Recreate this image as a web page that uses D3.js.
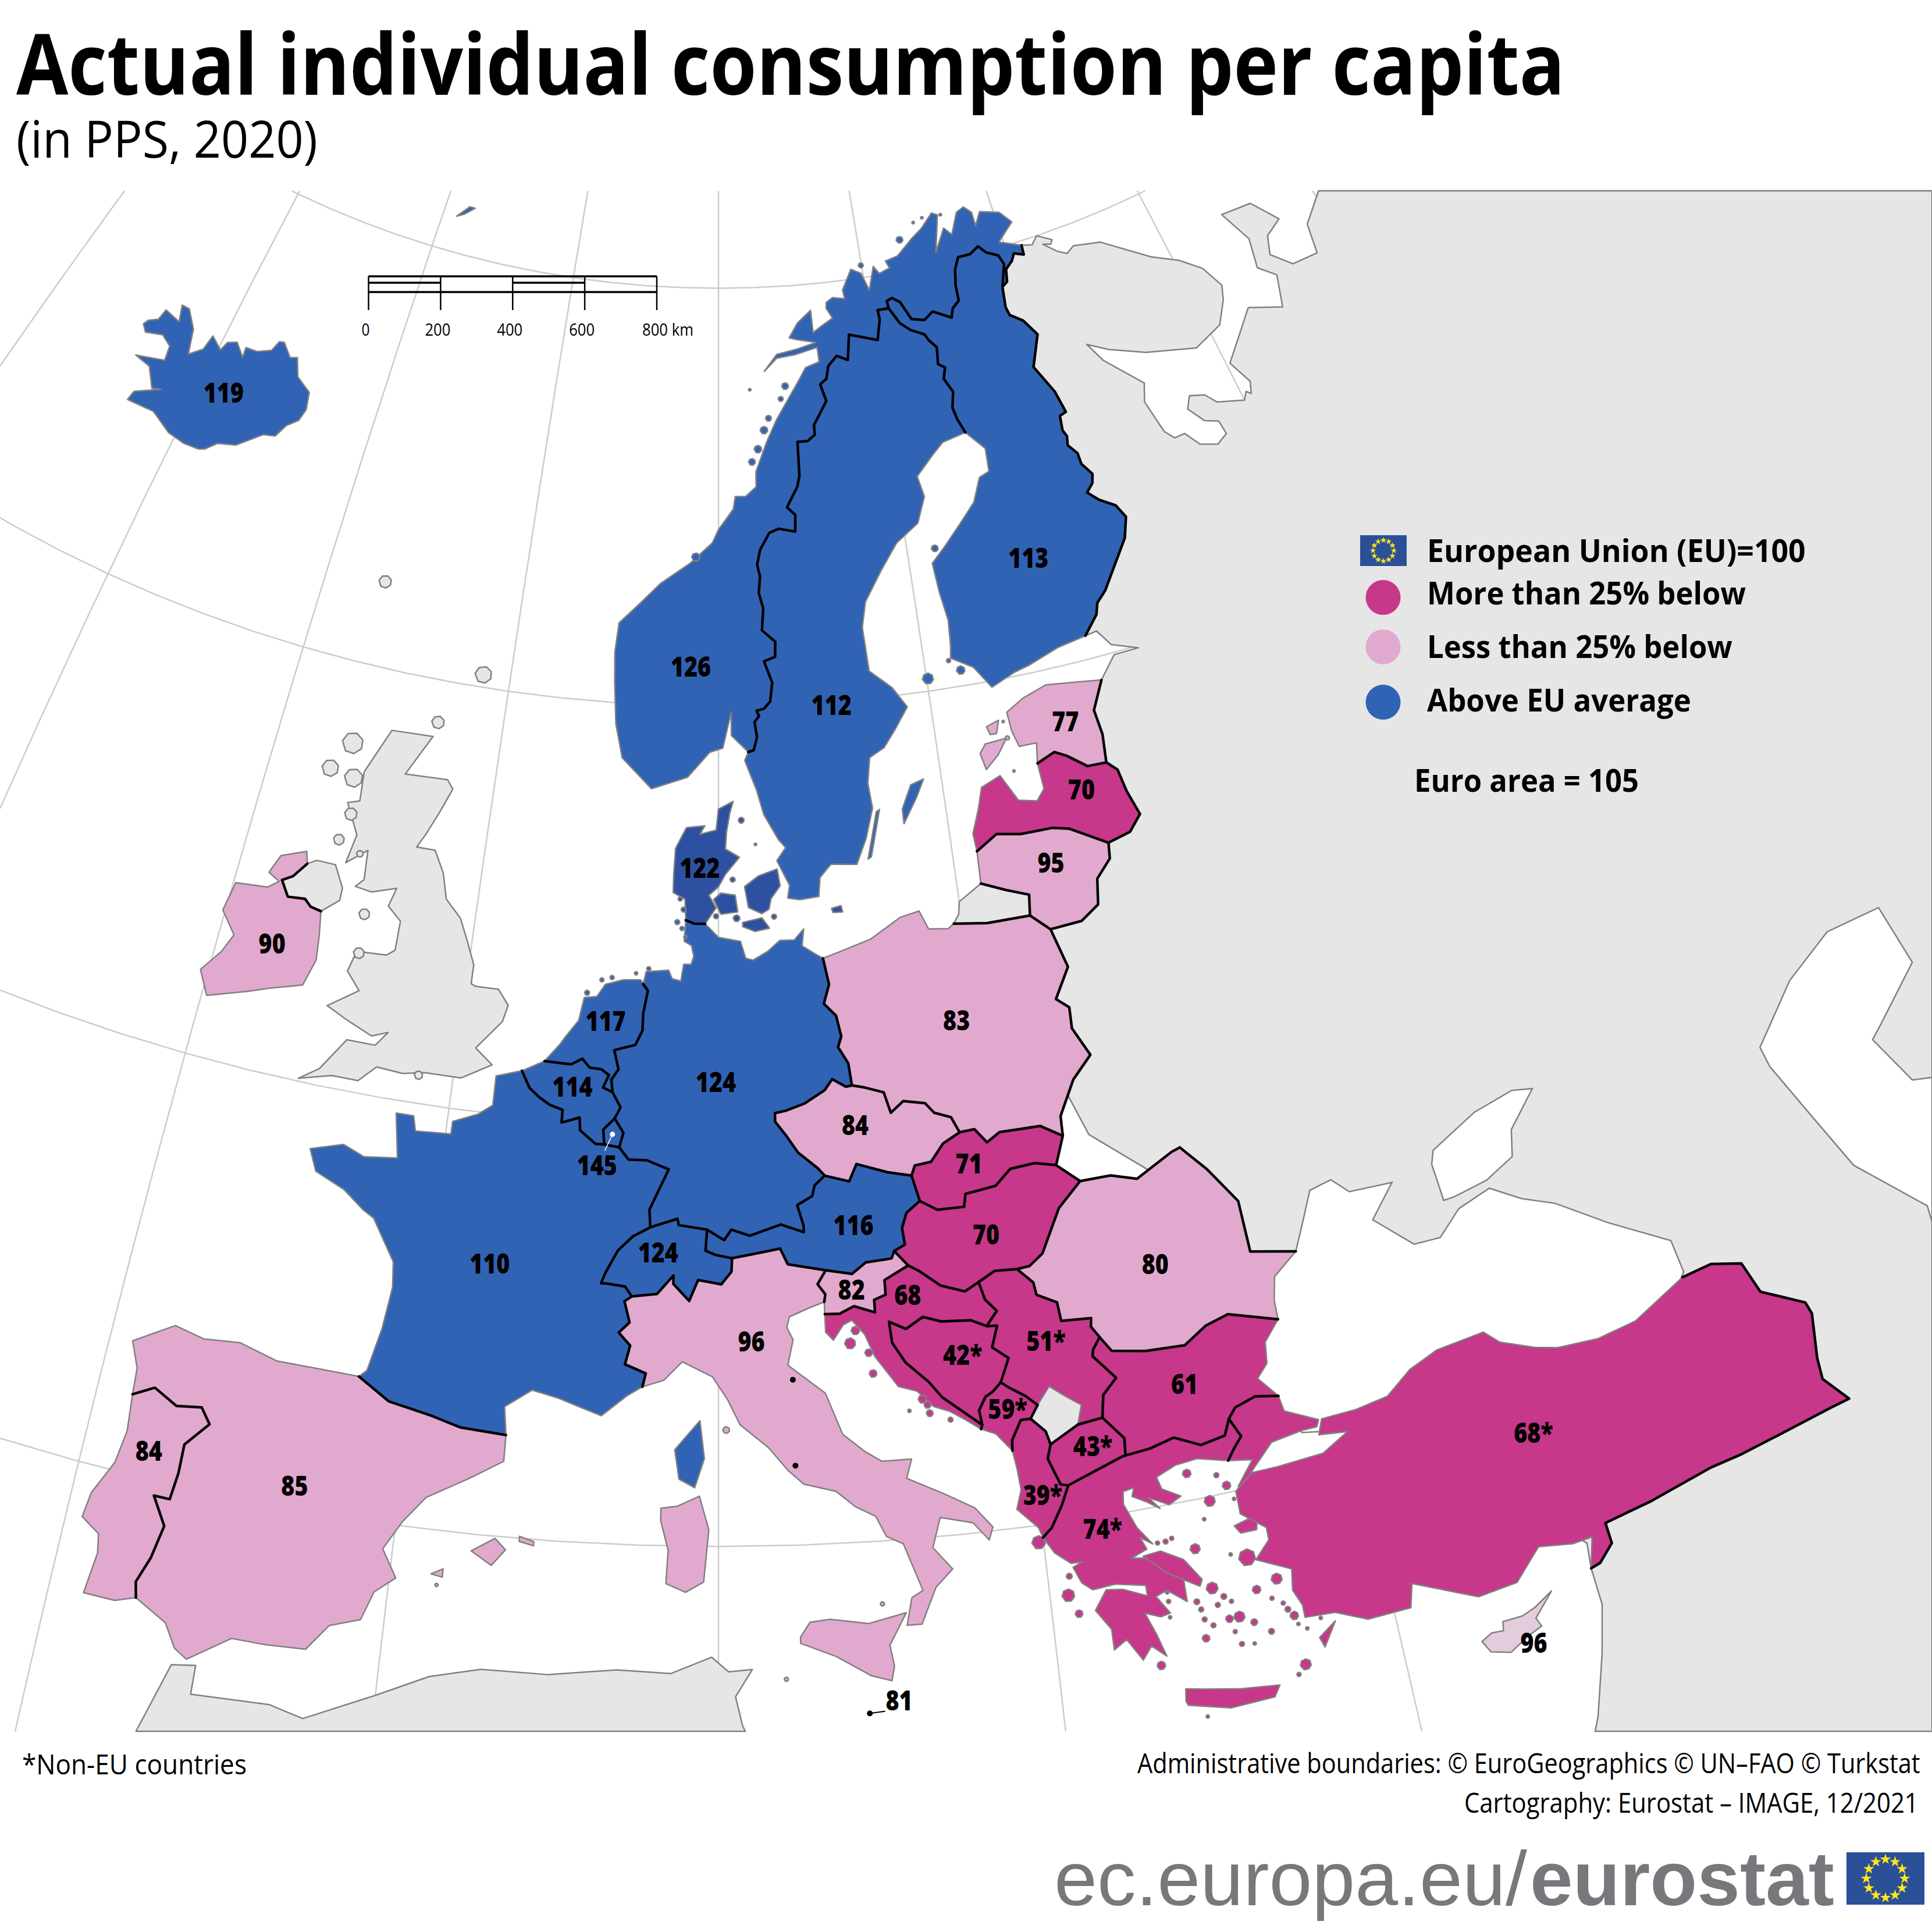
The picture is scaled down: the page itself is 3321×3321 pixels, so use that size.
<!DOCTYPE html>
<html>
<head>
<meta charset="utf-8">
<script src="https://cdn.jsdelivr.net/npm/d3@7"></script>
<style>
  html, body { margin: 0; padding: 0; background: #fff; }
  text { font-family: "Open Sans", sans-serif; }
</style>
</head>
<body>
<div id="chart"></div>
<script>
// values
const countryCodes = ['IS','NO','SE','FI','DK','EE','LV','LT','PL','DE','NL','BE','LU','FR','CH','AT','CZ','SK','HU','RO','SI','HR','BA','RS','ME','AL','MK','BG','EL','TR','IT','ES','PT','IE','CY','MT'];
const countryValues = [119,126,112,113,122,77,70,95,83,124,117,114,145,110,124,116,84,71,70,80,82,68,42,51,59,39,43,61,74,68,96,85,84,90,96,81];
const starred = ['BA','RS','ME','AL','MK','EL','TR'];
const labelLonLat = [[-18.6,65],[8.65,60.93],[15.35,59.93],[26.15,62.68],[9.2,56.15],[26,58.7],[26,57.05],[24.05,55.5],[19.25,52.16],[9.9,51.06],[5.6,52.43],[4.5,50.82],[5.6,48.99],[2.1,46.45],[7.9,46.98],[14.75,47.55],[15.05,49.93],[19.05,48.75],[19.35,47.03],[24.95,45.68],[14.55,46.03],[16.45,45.8],[18.1,44.25],[20.9,44.33],[19.37,42.85],[20.15,40.7],[21.92,41.68],[25.15,42.75],[21.85,39.7],[35.45,39.4],[11.1,44.88],[-3.27,40.56],[-7.95,40.66],[-7.85,53.03],[33.7,34.65],[15.27,36.16]];
const legendLabels = ['More than 25% below','Less than 25% below','Above EU average'];
const scaleTicks = [0,200,400,600,800];

// shared land borders, lon/lat
const NO_RU = [[31.1,69.9],[31.03,69.67],[30.42,69.77],[30.12,69.61],[29.57,69.46],[29.38,69.17],[28.98,69.08]];
const NO_FI = [[28.98,69.08],[29.55,69.59],[29.36,69.83],[28.62,69.98],[28.21,70.17],[27.53,70.04],[26.67,70.04],[26.25,69.77],[26,69.39],[25.95,69.03],[25.44,68.88],[25.22,68.67],[24.1,68.91],[23.47,68.75],[22.65,68.83],[22.13,69.28],[21.65,69.41],[21.28,69.36],[21.31,69.18]];
const NO_SE = [[21.31,69.18],[20.57,69.18],[20.6,68.95],[20.25,68.47],[18.47,68.69],[18.18,68.09],[17.51,68.22],[16.91,68],[16.71,67.7],[16.29,67.58],[16.56,67.17],[15.68,66.62],[15.68,66.39],[15.23,66.25],[14.63,66.25],[14.6,65.44],[14.44,65.18],[13.79,64.7],[14.22,64.51],[14.16,64.11],[13.27,64.2],[12.75,64.11],[12.22,63.71],[12.04,63.36],[12.17,63.08],[12.08,62.68],[12.28,62.32],[12.18,61.79],[12.82,61.51],[12.78,61.15],[12.23,61.05],[12.59,60.54],[12.46,60.09],[12.15,59.92],[11.8,59.88],[11.91,59.75],[11.69,59.61],[11.79,59.25],[11.62,58.94],[11.37,58.9]];
const FI_SE = [[24.4,65.92],[24.11,66.27],[23.98,66.56],[24.23,66.93],[23.85,67.28],[24.08,67.54],[23.7,67.65],[23.86,68.05],[23.45,68.26],[23.27,68.41],[22.44,68.58],[21.86,68.78],[21.31,69.18]];
const FI_RU = [[27.92,60.56],[28.72,60.98],[28.92,61.24],[29.47,61.47],[31.23,62.53],[31.64,63],[31.32,63.33],[30.58,63.57],[30.08,63.82],[30.51,64],[30.67,64.21],[30.26,64.51],[30.24,64.78],[29.85,65.03],[29.97,65.24],[29.83,65.4],[29.94,65.75],[30.34,65.8],[30.09,66.34],[29.33,67.04],[30.19,67.76],[29.6,68.17],[28.88,68.39],[28.78,68.59],[28.98,69.08]];
const DK_DE = [[9.45,54.82],[9,54.82],[8.65,54.9]];
const DE_NL = [[7,53.35],[7.2,53.2],[7.05,52.65],[7.05,52.25],[6.8,51.9],[6,51.75],[6.2,51.3],[5.95,51.05],[6.02,50.75]];
const DE_BE = [[6.02,50.75],[6.35,50.4],[6.15,50.13]];
const DE_LU = [[6.15,50.13],[6.5,49.8],[6.37,49.45]];
const DE_FR = [[6.37,49.45],[6.73,49.17],[7.4,49.17],[8.2,48.97],[7.55,48],[7.6,47.58]];
const DE_CH = [[7.6,47.58],[8.55,47.8],[8.6,47.65],[9.6,47.55]];
const DE_AT = [[9.6,47.55],[10.2,47.3],[10.45,47.55],[11.1,47.4],[12.2,47.65],[13,47.45],[13,47.6],[12.8,48.1],[13.35,48.3],[13.45,48.55],[13.83,48.77]];
const DE_CZ = [[13.83,48.77],[13.6,48.95],[12.9,49.35],[12.5,49.75],[12.1,50.1],[12.1,50.3],[12.5,50.35],[13.2,50.5],[14,50.8],[14.3,51.05],[14.8,50.85],[15.03,50.87]];
const DE_PL = [[15.03,50.87],[14.95,51.4],[14.6,51.8],[14.75,52.05],[14.6,52.55],[14.15,52.85],[14.4,53.3],[14.22,53.93]];
const NL_BE = [[3.37,51.37],[4.2,51.35],[4.4,51.35],[4.8,51.5],[5.1,51.3],[5.55,51.28],[5.85,51.15],[5.65,50.85],[6.02,50.75]];
const BE_FR = [[2.55,51.09],[2.9,50.7],[3.3,50.5],[3.7,50.35],[4.2,50.25],[4.2,49.95],[4.85,50.1],[4.9,49.8],[5.5,49.5],[5.82,49.5]];
const BE_LU = [[5.82,49.5],[5.75,49.85],[6.15,50.13]];
const LU_FR = [[5.82,49.5],[6.37,49.45]];
const FR_ES = [[-1.78,43.38],[-0.7,42.9],[0.7,42.7],[1.7,42.5],[3.17,42.43]];
const FR_IT = [[7.5,43.78],[7.6,44.1],[6.9,44.3],[7.05,44.75],[6.65,45.05],[7,45.3],[6.8,45.8],[7.04,45.92]];
const FR_CH = [[7.04,45.92],[6.8,46.15],[6.2,46.2],[5.97,46.2],[6.1,46.45],[6.5,47],[7,47.35],[7.6,47.58]];
const CH_IT = [[7.04,45.92],[7.9,46],[8.45,46.45],[8.45,46.25],[9,45.85],[9.3,46.35],[10.1,46.25],[10.45,46.55],[10.47,46.87]];
const CH_AT = [[10.47,46.87],[9.9,46.95],[9.55,47.05],[9.6,47.55]];
const AT_IT = [[10.47,46.87],[11.1,46.95],[12.15,47.08],[12.4,46.7],[13.7,46.52]];
const AT_SI = [[13.7,46.52],[14.6,46.4],[15.1,46.65],[16,46.7],[16.11,46.87]];
const AT_HU = [[16.11,46.87],[16.5,47],[16.45,47.4],[16.65,47.75],[17.16,48]];
const AT_SK = [[17.16,48],[16.95,48.62]];
const AT_CZ = [[16.95,48.62],[16.1,48.75],[15,49],[14.7,48.6],[13.83,48.77]];
const CZ_PL = [[15.03,50.87],[15.5,50.8],[16.2,50.65],[16.4,50.15],[16.9,50.4],[17.7,50.3],[18,50.05],[18.6,49.9],[18.85,49.52]];
const CZ_SK = [[18.85,49.52],[18.2,49.3],[17.7,48.9],[17.1,48.85],[16.95,48.62]];
const SK_PL = [[18.85,49.52],[19.4,49.55],[19.8,49.2],[20.3,49.4],[21.1,49.4],[21.8,49.4],[22.56,49.08]];
const SK_UA = [[22.56,49.08],[22.15,48.42]];
const SK_HU = [[22.15,48.42],[21.4,48.55],[20.5,48.5],[19.9,48.15],[18.8,48.05],[18.7,47.75],[17.75,47.75],[17.16,48]];
const HU_UA = [[22.15,48.42],[22.9,47.95]];
const HU_RO = [[22.9,47.95],[22,47.4],[21.2,46.4],[20.7,46.15],[20.26,46.12]];
const HU_RS = [[20.26,46.12],[19.5,46.15],[18.9,45.93]];
const HU_HR = [[18.9,45.93],[18.4,45.75],[17.6,45.95],[16.9,46.35],[16.55,46.5]];
const HU_SI = [[16.55,46.5],[16.11,46.87]];
const IT_SI = [[13.7,46.52],[13.4,46.2],[13.65,45.95],[13.6,45.77]];
const SI_HR = [[13.6,45.48],[14.1,45.47],[14.6,45.63],[15.3,45.45],[15.3,45.75],[15.7,45.85],[15.7,46.2],[16.55,46.5]];
const HR_ME = [[18.45,42.45],[18.5,42.55]];
const HR_BA = [[18.5,42.55],[17.7,43.05],[17.3,43.3],[16.9,43.7],[16.2,44.2],[15.8,44.7],[15.75,45.2],[16.3,45],[16.9,45.25],[17.5,45.1],[18.5,45.05],[19,44.87]];
const HR_RS = [[18.9,45.93],[19.05,45.5],[19.4,45.2],[19,44.87]];
const BA_RS = [[19,44.87],[19.35,44.85],[19.1,44.35],[19.6,44.05],[19.25,43.5]];
const BA_ME = [[18.5,42.55],[18.45,42.9],[18.7,43.2],[18.95,43.3],[19.25,43.5]];
const ME_AL = [[19.37,41.85],[19.4,42.1],[19.75,42.55],[20.07,42.55]];
const ME_XK = [[20.07,42.55],[20.35,42.85]];
const ME_RS = [[20.35,42.85],[20,43.1],[19.5,43.35],[19.25,43.5]];
const XK_AL = [[20.07,42.55],[20.5,42.2],[20.6,41.88]];
const XK_MK = [[20.6,41.88],[21.55,42.25]];
const RS_MK = [[21.55,42.25],[22.36,42.32]];
const RS_BG = [[22.36,42.32],[22.5,42.85],[23,43.2],[22.35,43.8],[22.4,43.95],[22.68,44.22]];
const RS_RO = [[22.68,44.22],[22.45,44.5],[22.5,44.7],[21.5,44.75],[21.45,45.2],[20.8,45.45],[20.75,45.75],[20.26,46.12]];
const AL_EL = [[20,39.7],[20.3,39.9],[20.7,40.4],[20.98,40.85]];
const AL_MK = [[20.98,40.85],[20.75,40.9],[20.45,41.55],[20.6,41.88]];
const MK_EL = [[20.98,40.85],[21.9,41.1],[22.8,41.33],[22.9,41.34]];
const MK_BG = [[22.9,41.34],[22.95,41.75],[22.36,42.32]];
const BG_EL = [[22.9,41.34],[23.7,41.4],[24.5,41.55],[25.3,41.25],[26.1,41.35],[26.33,41.72]];
const BG_TR = [[26.33,41.72],[26.6,41.95],[27.3,42.1],[28.03,41.98]];
const BG_RO = [[22.68,44.22],[23,43.85],[24.1,43.7],[25.4,43.65],[26.2,44],[27,44.15],[28.58,43.75]];
const EL_TR = [[26.33,41.72],[26.6,41.25],[26.3,41],[26.05,40.75]];
const RO_UA_N = [[22.9,47.95],[24,47.95],[24.9,47.75],[26.3,48.2],[26.62,48.26]];
const RO_MD = [[26.62,48.26],[27.4,47.6],[28.2,46.7],[28.2,45.47]];
const RO_UA_S = [[28.2,45.47],[29.7,45.2]];
const PL_UA = [[23.6,51.55],[24.1,50.85],[23.3,50.35],[22.6,49.55],[22.56,49.08]];
const PL_BY = [[23.5,53.95],[23.9,53],[23.2,52.3],[23.65,52.05],[23.6,51.55]];
const PL_LT = [[22.78,54.36],[23.5,53.95]];
const PL_RU = [[19.65,54.45],[21,54.35],[22.78,54.36]];
const LT_RU = [[21,55.3],[22,55.05],[22.9,54.85],[22.78,54.36]];
const LT_LV = [[21.05,56.07],[22,56.4],[23,56.3],[24.4,56.3],[25.1,56.2],[26.6,55.67]];
const LT_BY = [[26.6,55.67],[26.5,55.3],[25.8,54.9],[25.6,54.3],[24.8,54],[23.5,53.95]];
const LV_EE = [[24.35,57.87],[25.2,58.05],[25.7,57.9],[26.5,57.55],[27.35,57.53]];
const LV_EAST = [[27.35,57.53],[27.75,57.3],[27.9,56.75],[28.2,56.15],[27.6,55.8],[26.6,55.67]];
const EE_RU = [[28.1,59.45],[27.4,58.8],[27.5,58.2],[27.35,57.53]];
const PT_ES = [[-8.85,41.87],[-8.2,42.15],[-7.4,41.85],[-6.6,41.95],[-6.25,41.6],[-6.9,41],[-6.9,40.3],[-7,39.65],[-7.5,39.65],[-7,39],[-7.2,38.2],[-7.5,37.55],[-7.4,37.18]];
const IE_UK = [[-7.25,55.07],[-7.7,54.7],[-8.1,54.55],[-7.7,54.2],[-7,54.25],[-6.7,54.1],[-6.25,54.05]];
const TR_E = [[41.5,41.5],[42.5,41.5],[43.4,41.2],[43.6,40.4],[44.75,39.7],[44.8,39.4],[44.4,38.4],[44.3,37.9],[44.8,37.2],[44.2,37.2],[42.4,37.15],[41.2,37.1],[40.2,37.1],[38.2,36.9],[36.7,36.8],[36.7,36.3],[36.2,35.95],[35.9,35.9]];

// coastlines, lon/lat
const coastNO = [[11.37,58.9],[10.6,59.3],[10.6,59.85],[10.2,59],[9.6,58.9],[8.6,58.3],[7,58],[5.6,58.7],[5.2,59.5],[5,60.5],[4.9,61.2],[5,61.9],[6,62.4],[7,62.9],[8.5,63.4],[9.68,63.9],[10,64.21],[10.82,64.7],[10.94,65],[11.52,65],[12.12,65.22],[12.14,65.58],[12.82,66.28],[13.48,66.81],[13.9,67.07],[15.05,67.75],[15.48,68.01],[16.37,68.12],[16.33,68.47],[14.9,68.34],[13.7,68.28],[12.88,67.98],[13.72,68.37],[15.06,68.47],[16.29,68.59],[15.11,68.69],[14.59,68.75],[15.2,69.09],[16.15,69.37],[16.17,68.83],[16.81,68.98],[17.54,69.13],[17.2,69.38],[17.25,69.52],[17.7,69.62],[18.52,69.56],[18.45,69.77],[19.22,70.24],[19.87,70.11],[20.25,69.68],[20.79,70.23],[21.12,70.04],[21.88,70.13],[21.69,70.31],[22.6,70.38],[23.82,70.72],[24.7,70.92],[25.67,71.22],[26.05,71.14],[25.26,70.27],[26.23,70.8],[26.68,70.6],[27.43,71.09],[28.03,71.17],[28.48,71],[28.48,70.66],[29.05,70.96],[30.38,70.81],[31.01,70.5],[29.69,70.13],[31.1,69.9]];
const coastSE = [[11.37,58.9],[11.2,58.7],[11.7,58],[12,57.4],[12.6,56.8],[12.9,56.6],[12.5,56.3],[13,55.7],[12.9,55.4],[13.4,55.35],[14.2,55.4],[14.3,55.85],[14.8,56.15],[15.9,56.1],[16.4,56.7],[16.8,57.4],[16.7,58],[16.9,58.6],[17.6,58.8],[18.2,59.2],[18.9,59.7],[18.3,60.2],[17.3,60.65],[17.2,61.7],[17.5,62.3],[18.5,63],[19.5,63.6],[20.8,64],[21.4,64.6],[21.2,65.1],[22.3,65.55],[23,65.8],[24.4,65.92]];
const coastFI = [[24.4,65.92],[25.3,65.45],[25.2,64.9],[24.6,64.8],[24,64.25],[23,63.8],[21.9,63.3],[21.2,63],[21.3,62.3],[21.5,61.6],[21.4,61],[21.3,60.7],[22.3,60.4],[23,59.85],[24.2,60.1],[25,60.2],[26.5,60.45],[27.92,60.56]];
const coastKola = [[31.8,69.83],[32.3,70],[33.2,69.79],[33,69.7],[32.5,69.76],[33.24,69.49],[33.8,69.36],[34.4,69.48],[36.15,69.33],[38.8,68.53],[40.3,68.18],[41.4,67.76],[41.95,67.2],[41.6,66.88],[40.7,66.39],[38.85,66.13],[36,66.5],[34,66.88],[32.85,67.17],[33.45,66.68],[35.2,65.84],[34.8,65.42],[35.2,64.6],[35.6,64.37],[36.2,64.38],[36.75,64.01],[37.65,63.85],[38.3,64],[38.2,64.34],[37.5,64.48],[36.9,64.89],[37.3,65.16],[38.1,65.04],[38.56,64.77],[40,64.54],[40.3,64.71],[40.5,64.61],[40.76,64.88],[40.2,65.47],[42.7,66.45],[44.5,66.08],[45.2,66.8],[44.4,67.17],[44.9,67.86],[44.2,68.67],[46.2,68.56],[47.2,67.9],[46,67.7],[45.5,67.29],[46.4,66.83],[48,66.75],[48.5,67.44],[50.4,67.96]];
const coastDK = [[9.45,54.82],[9.9,55.2],[9.6,55.5],[10,55.7],[10.3,56],[10.9,56.4],[10.3,56.6],[10.35,57],[10.5,57.45],[10.65,57.73],[10,57.55],[9.9,57.05],[9.2,56.95],[9.4,57.15],[8.6,57.1],[8.15,56.6],[8.1,56],[8.1,55.55],[8.6,55.4],[8.65,54.9]];
const coastDE_N = [[8.65,54.9],[8.6,54.4],[8.9,54.3],[9,54.05],[8.9,53.85],[8.6,53.85],[8.5,53.45],[8.15,53.5],[8,53.7],[7.1,53.65],[7,53.35]];
const coastDE_B = [[14.22,53.93],[13.9,54.05],[13.4,54.25],[13.5,54.65],[13.1,54.4],[12.5,54.4],[12,54.15],[11.4,53.95],[11.1,54],[10.9,54.4],[10,54.5],[9.45,54.82]];
const coastNL = [[7,53.35],[6.9,53.45],[6.2,53.43],[5.5,53.3],[5.2,53],[4.7,52.95],[4.55,52.4],[4.1,52],[3.9,51.8],[3.37,51.37]];
const coastBE = [[3.37,51.37],[2.55,51.09]];
const coastFR_A = [[2.55,51.09],[1.6,50.9],[1.6,50.2],[1.1,49.95],[0.2,49.7],[0.2,49.4],[-1.1,49.35],[-1.25,49.7],[-1.9,49.7],[-1.6,48.65],[-2.8,48.55],[-3.6,48.75],[-4.75,48.5],[-4.4,48],[-3.3,47.7],[-2.5,47.3],[-2.1,47.15],[-1.2,46.2],[-1.1,45.6],[-1.25,44.6],[-1.55,43.55],[-1.78,43.38]];
const coastFR_M = [[3.17,42.43],[3.05,43.1],[3.9,43.55],[4.8,43.4],[5.4,43.25],[6.2,43.05],[7,43.55],[7.5,43.78]];
const coastIT = [[13.6,45.77],[13.1,45.65],[12.4,45.45],[12.3,45.2],[12.5,44.9],[12.3,44.3],[13.5,43.6],[14,42.6],[14.7,42.15],[15.2,41.9],[16.15,41.9],[15.95,41.45],[17.1,41],[18,40.6],[18.5,40.1],[18.35,39.8],[17.9,40.25],[16.9,40.45],[16.6,39.75],[17.15,39.2],[16.6,38.8],[16.1,37.95],[15.65,37.95],[15.85,38.6],[16.2,38.75],[15.7,39.9],[15.2,40.1],[14.9,40.6],[14.3,40.85],[13.7,41.25],[12.7,41.45],[12.2,41.8],[11.6,42.35],[10.7,42.9],[10.3,43.5],[9.8,44.05],[8.8,44.4],[8.2,43.95],[7.5,43.78]];
const coastSI = [[13.6,45.77],[13.6,45.48]];
const coastHR = [[13.6,45.48],[13.6,45.05],[13.85,44.85],[14.2,45.2],[14.5,45.3],[14.9,44.95],[15.2,44.4],[15.9,43.65],[16.5,43.5],[17,43.1],[17.5,42.95],[18,42.7],[18.45,42.45]];
const coastME = [[18.45,42.45],[18.9,42.3],[19.37,41.85]];
const coastAL = [[19.37,41.85],[19.45,41.4],[19.5,40.9],[19.3,40.45],[19.9,39.95],[20,39.7]];
const coastEL = [[20,39.7],[20.3,39.3],[20.75,39],[21.1,39],[20.8,38.9],[21,38.5],[21.3,38.3],[22,38.35],[22.9,38.2],[22.9,37.95],[22.2,38.2],[21.7,38.25],[21.3,37.8],[21.7,37.3],[21.7,36.8],[22.1,37],[22.5,36.45],[22.8,36.75],[23.2,36.45],[23,37],[22.75,37.55],[23.2,37.4],[23.5,37.45],[23.15,37.9],[23.5,38],[24.05,37.65],[24.05,38.2],[23.6,38.5],[23,38.85],[22.6,38.9],[23.1,39.05],[22.95,39.35],[23.3,39.15],[22.9,39.6],[22.6,40.2],[22.65,40.5],[23,40.55],[22.9,40.35],[23.35,40.15],[23.7,39.95],[23.4,40.25],[24,40],[24.4,40.15],[23.85,40.4],[23.75,40.7],[24.4,40.9],[25.1,40.95],[26.05,40.75]];
const coastBG = [[28.58,43.75],[28,43.3],[27.9,42.8],[27.5,42.5],[28.03,41.98]];
const coastRO = [[29.7,45.2],[28.8,44.75],[28.6,44.2],[28.58,43.75]];
const coastThrace = [[26.05,40.75],[26.8,40.65],[26.2,40.1],[26.3,40.05],[26.8,40.45],[27.5,40.95],[28.5,41.05],[29,41.05],[29.1,41.2],[28.1,41.6],[28.03,41.98]];
const coastTR_N = [[29.2,41.2],[30.3,41.2],[31.4,41.3],[32.3,41.75],[33.3,42],[34.9,42.05],[35.3,41.7],[36.3,41.3],[37,41.1],[38.3,40.95],[39.6,41],[41.5,41.5]];
const coastTR_S = [[35.9,35.9],[36.2,36.6],[35.6,36.6],[34.6,36.8],[33.7,36.15],[32.5,36.1],[30.7,36.85],[30.5,36.3],[29.2,36.3],[28.3,36.65],[27.4,36.7],[27.4,37],[27.2,37.4],[27.3,37.9],[26.3,38.3],[26.8,38.7],[26.8,39],[26.1,39.45],[26.1,40],[26.7,40.35],[27.5,40.35],[29,40.4],[29.9,40.75],[29,40.85],[29.2,41.2]];
const coastES_N = [[-1.78,43.38],[-3,43.4],[-4.5,43.4],[-5.8,43.65],[-7,43.55],[-8,43.7],[-9.25,43.1],[-8.9,42.5],[-8.85,41.87]];
const coastES_S = [[-7.4,37.18],[-6.4,36.75],[-6,36.2],[-5.6,36],[-5.35,36.15],[-4.4,36.7],[-3.4,36.7],[-2.2,36.75],[-1.6,37.4],[-0.7,37.65],[-0.4,38.35],[0.2,38.75],[-0.3,39.4],[0.2,40.1],[0.85,40.75],[2.1,41.3],[3.17,41.8],[3.17,42.43]];
const coastPT = [[-8.85,41.87],[-8.75,41],[-8.9,40.2],[-9.4,39.35],[-9.5,38.75],[-8.9,38.45],[-8.8,38],[-8.95,37],[-8,37],[-7.4,37.18]];
const coastIE = [[-6.25,54.05],[-6.1,53.5],[-6,52.9],[-6.3,52.25],[-7.5,52],[-8.3,51.8],[-9.8,51.45],[-10.3,52],[-9.7,52.55],[-9.4,53],[-10.1,53.5],[-9.9,54.2],[-8.6,54.3],[-8.2,54.5],[-8.7,54.65],[-8.4,55.1],[-7.4,55.35],[-7.25,55.07]];
const coastNI = [[-6.25,54.05],[-5.6,54.4],[-5.6,54.7],[-6.1,55.2],[-6.9,55.2],[-7.25,55.07]];
const coastEE = [[24.35,57.87],[24.5,58.35],[23.7,58.35],[23.5,58.75],[23.45,59.2],[24.3,59.45],[25.5,59.65],[26.9,59.55],[28.1,59.45]];
const coastLV = [[21.05,56.07],[21,56.5],[21.4,57.05],[21.7,57.55],[22.6,57.75],[23.2,57.1],[24,57],[24.4,57.25],[24.35,57.87]];
const coastLT = [[21.05,56.07],[21,55.3]];
const coastPL = [[19.65,54.45],[19.4,54.35],[18.6,54.4],[18.3,54.85],[17.5,54.75],[16.2,54.3],[14.6,54],[14.22,53.93]];
const coastKal = [[19.65,54.45],[19.9,54.65],[20,54.95],[21,55.3]];

// islands and outer land, drawn as their own rings
const ringIS = [[-23.19,63.87],[-23.1,64.11],[-21.84,64.44],[-22.31,64.37],[-23.03,64.8],[-24.01,64.88],[-22.43,65.09],[-22.57,65.44],[-23.24,65.6],[-24.19,65.46],[-24.54,65.61],[-24.39,65.74],[-23.92,65.87],[-23.8,66.15],[-22.78,66.05],[-23.11,66.43],[-22.63,66.43],[-21.83,66.05],[-21.4,65.47],[-20.77,65.73],[-20.62,66.11],[-19.85,65.89],[-19.67,66.12],[-19.17,66.22],[-18.49,65.95],[-18.56,66.19],[-17.86,66.21],[-17.11,66.37],[-16.89,66.63],[-16.61,66.66],[-15.93,66.38],[-15.52,66.44],[-15.06,66.02],[-14.1,65.77],[-13.9,65.36],[-14.08,65.06],[-14.61,64.85],[-14.98,64.52],[-15.62,64.45],[-16.78,63.98],[-17.73,63.85],[-18.23,63.61],[-18.54,63.55],[-19.4,63.53],[-20.38,63.61],[-21.63,63.9]];
const ringJanMayen = [[-9,70.85],[-8.3,71.15],[-7.9,71.15],[-8.5,70.95]];
const ringGotland = [[18.1,56.95],[18.8,57.55],[19.2,57.95],[18.6,57.85],[18.1,57.3]];
const ringOland = [[16.4,56.2],[16.95,57.3],[17.1,57.35],[16.55,56.25]];
const ringFyn = [[9.8,55.4],[10.1,55.55],[10.7,55.5],[10.8,55.1],[10.1,55.05]];
const ringSjaelland = [[11.1,55.7],[11.7,55.95],[12.5,56.1],[12.6,55.7],[12.2,55.4],[12.1,55.15],[11.8,55.05],[11.25,55.2]];
const ringLolland = [[11,54.85],[11.8,54.95],[12.1,54.7],[11.5,54.63],[11,54.75]];
const ringBornholm = [[14.7,55.1],[15.1,55.15],[15.15,55],[14.75,55]];
const ringSicily = [[12.45,37.8],[12.75,38.15],[13.35,38.2],[14.5,38.05],[15.65,38.25],[15.1,37.5],[15.2,37],[15.1,36.65],[14.5,36.8],[13.5,37.3],[12.45,37.65]];
const ringSardinia = [[8.2,40.9],[8.2,40.6],[8.45,39.9],[8.4,39.1],[9,38.9],[9.55,39.15],[9.7,40.4],[9.4,41.2],[8.7,40.95]];
const ringCorsica = [[8.6,42.3],[9.4,43],[9.55,42.1],[9.25,41.4],[8.75,41.6]];
const ringMallorca = [[2.4,39.6],[3.1,39.95],[3.45,39.7],[3.05,39.3]];
const ringMenorca = [[3.85,40.05],[4.3,39.95],[4.3,39.85],[3.85,39.93]];
const ringIbiza = [[1.25,38.95],[1.6,39.1],[1.6,38.9]];
const ringCrete = [[23.55,35.3],[23.6,35.6],[24.2,35.5],[25.2,35.35],[25.8,35.3],[26.3,35.25],[26.1,35],[24.8,34.95],[23.6,35.2]];
const ringEuboea = [[22.95,38.9],[23.5,38.95],[24.15,38.65],[24.6,38.1],[24.5,37.95],[23.6,38.4]];
const ringLesvos = [[25.85,39.2],[26.6,39.35],[26.5,39],[26,39]];
const ringRhodes = [[27.7,36.15],[28.25,36.45],[27.8,35.9]];
const ringCyprus = [[32.27,35.05],[32.45,34.75],[33,34.6],[33.6,34.85],[34.05,34.98],[33.95,35.2],[34.6,35.7],[34,35.45],[33.6,35.35],[33,35.36],[32.95,35.15],[32.6,35.18]];
const ringSaaremaa = [[21.9,58.35],[22.2,58.55],[23.2,58.6],[22.7,58.25],[22.05,57.95]];
const ringHiiumaa = [[22.4,58.95],[23,59.05],[22.8,58.75],[22.5,58.75]];
const ringGB = [[-5.7,50.07],[-4.5,50.3],[-3.5,50.3],[-2.9,50.7],[-1.9,50.65],[-1.1,50.75],[0.3,50.75],[1.4,51.15],[0.7,51.5],[1.6,52.2],[1.75,52.6],[1.3,52.95],[0.4,52.95],[0.2,53],[0.2,53.45],[-0.2,54],[-0.6,54.5],[-1.3,54.9],[-1.6,55.5],[-2.1,56],[-2.9,56],[-2.6,56.35],[-2.2,56.9],[-1.8,57.5],[-2.1,57.7],[-4,57.65],[-3.1,58.65],[-5,58.6],[-5.8,57.5],[-5.7,56.8],[-6.2,56.7],[-5.5,56],[-5.7,55.3],[-4.9,55.7],[-4.8,55],[-5.1,54.8],[-4.4,54.75],[-3.4,54.95],[-3.6,54.5],[-3,54.2],[-3,53.5],[-3.3,53.35],[-4.5,53.3],[-4.7,52.8],[-4.1,52.4],[-5.2,51.9],[-4.3,51.65],[-3.3,51.4],[-2.7,51.55],[-3.1,51.2],[-4.2,51.2],[-5,50.4]];
const ringGreenland = [[-45,64],[-40,65],[-38,65.6],[-37.3,66],[-34.5,67.5],[-40,70]];
const ringAfrica = [[-6,35.8],[-5.3,35.9],[-5.3,35.2],[-3,35.3],[-2,35.1],[0,35.9],[1.5,36.5],[3,36.8],[5,36.8],[7,37],[8.6,36.95],[9.8,37.35],[10.3,37],[11,37.05],[10.5,36.4],[10.7,35.7],[11,35.2],[10.1,34.3],[11,33.2],[12.5,32.9],[15,32.3],[16,31.3],[20,31],[20,33],[22,32.9],[25,31.7],[29,31],[31,31.5],[32.5,31.1],[34.2,31.3],[35,25],[35,20],[-7,20],[-6.67,34]];
const ringEastHead = [[28.1,59.45],[29,59.95],[30.2,59.95],[29,60.2],[28.5,60.6]];
const ringEastTail = [[54,69],[60,70],[68,70],[80,72],[90,70],[90,30],[60,22],[36,22],[34.2,31.3],[34.9,32.5],[35.5,33.9],[35.9,35],[35.9,35.9],[36,36.5],[32,40],[31.5,41],[30,42],[28.7,43.5],[28.3,45],[26,47.5],[23.5,49],[23,50],[23,54],[24.5,55.5],[26,57],[27,58.5]];
const ringBlackSea = [[29.7,45.2],[30.2,45.85],[30.7,46.5],[31.5,46.6],[32,46.2],[33.5,46.1],[32.5,45.4],[33.6,44.55],[34.5,44.5],[35.4,45],[36.6,45.2],[37.5,44.7],[38.5,44.3],[39.9,43.4],[41.6,42.4],[41.6,41.6],[40,40.5],[36,40.5],[31,40.6],[28.5,41],[27.5,42.5],[28,44],[29,45]];
const ringAzov = [[35,45.3],[35,46.2],[35.2,46.5],[37,47],[38.5,47.15],[39.2,47],[38,46.3],[37.7,45.7],[36.6,45.4],[35.4,45.3]];
const ringCaspian = [[47,45.5],[49,46.5],[51,47],[53,46.8],[53,45.3],[51,44.5],[50.5,44.3],[51,43],[52.5,42.5],[53,41],[53,39],[54,37],[52,36.7],[50,37.4],[49,38.3],[49.5,40.3],[48,42],[47.5,43.5],[47,45]];
const ringKosovo = [[20.35,42.85],[20.8,43.25],[21.3,42.95],[21.75,42.7],[21.55,42.25],[20.6,41.88],[20.5,42.2],[20.07,42.55]];

// small islands: lon, lat, radius in degrees
const isletsEL = [[24.85,37.85,.14],[25.15,37.6,.07],[25.35,37.45,.05],[24.93,37.43,.06],[24.33,37.6,.07],[24.42,37.4,.06],[24.47,37.15,.06],[24.7,36.97,.06],[24.42,36.7,.09],[25.2,37.05,.09],[25.5,37.05,.13],[25.3,36.72,.05],[25.9,36.85,.08],[25.43,36.4,.06],[25.8,36.35,.04],[26.15,37.6,.1],[26.8,37.75,.13],[26.05,38.4,.2],[25.58,38.55,.04],[24.55,38.85,.12],[23.45,39.15,.05],[23.7,39.15,.06],[23.9,39.2,.05],[26.55,37.32,.05],[26.85,37.15,.05],[26.95,36.98,.07],[27.1,36.8,.1],[26.35,36.55,.07],[27.17,36.58,.04],[27.4,36.43,.04],[27.85,36.6,.04],[27.15,35.6,.13],[26.9,35.4,.05],[23,36.25,.1],[23.5,37.73,.05],[23.5,37.95,.04],[23.47,37.35,.04],[24.98,39.5,.04],[24.1,34.85,.04],[19.85,39.6,.16],[20.55,38.25,.15],[20.8,37.78,.09],[20.65,38.7,.07],[24.7,40.65,.1],[25.6,40.47,.06],[25.25,39.9,.13]];
const isletsTR = [[25.85,40.18,.1],[26,39.83,.04]];
const isletsHR = [[14.6,45.05,.1],[14.4,44.75,.13],[15,44.5,.09],[15.1,44,.09],[16.65,43.3,.1],[16.8,43.15,.08],[16.85,42.95,.08],[16.2,43.05,.04],[17.5,42.75,.06]];
const isletsDK = [[11,57.28,.07],[11.6,56.7,.03],[10.6,55.87,.06],[9.9,55,.06],[8.55,55.15,.06],[8.4,55.4,.05],[10.75,54.95,.08],[12.3,54.97,.06]];
const isletsDE = [[8.3,54.85,.06],[8.5,54.7,.05],[8.65,54.5,.04],[7.2,53.72,.05],[6.7,53.6,.04]];
const isletsNL = [[5.75,53.47,.05],[5.35,53.4,.05],[4.8,53.07,.06]];
const isletsNO = [[11.93,65.82,.08],[12.3,66.12,.09],[12.7,66.57,.09],[13,66.85,.07],[13.8,67.3,.06],[14.12,67.6,.08],[19.95,70.3,.06],[22.97,70.75,.08],[24.2,71.09,.03],[24.9,71.16,.03],[26.26,71.13,.03],[11.93,67.55,.03],[8.8,63.55,.1]];
const isletsUK = [[-6.6,58.1,.25],[-7.3,57.4,.2],[-6.2,57.3,.22],[-5.95,56.45,.15],[-6.2,55.8,.13],[-5.2,55.58,.08],[-3,59,.15],[-1.3,60.3,.2],[-4.5,54.2,.13],[-4.4,53.27,.13],[-1.3,50.67,.1],[-7,62,.15]];
const isletsIT = [[14.95,38.5,.05],[10.25,42.78,.08],[12,36.8,.05],[12.6,35.5,.03]];
const isletsES = [[1.45,38.7,.04]];
const isletsFI = [[20.06,60.3,.13],[21.68,60.38,.1],[21.18,60.65,.05],[21.46,63.34,.08]];
const isletsEE = [[23.2,59,.03],[23.25,58.6,.05],[23.25,57.8,.03]];

const rev = a => a.slice().reverse();
const ring = (...parts) => parts.flat();
const ringEast = ring(ringEastHead, FI_RU, rev(NO_RU), coastKola, ringEastTail);

const ringsByCountry = {
  IS: [ringIS, ringJanMayen],
  NO: [ring(coastNO, NO_RU, NO_FI, NO_SE)],
  SE: [ring(coastSE, FI_SE, NO_SE), ringGotland, ringOland],
  FI: [ring(coastFI, FI_RU, NO_FI, rev(FI_SE))],
  DK: [ring(coastDK, rev(DK_DE)), ringFyn, ringSjaelland, ringLolland, ringBornholm],
  DE: [ring(coastDE_N, DE_NL, DE_BE, DE_LU, DE_FR, DE_CH, DE_AT, DE_CZ, DE_PL, coastDE_B, DK_DE)],
  NL: [ring(coastNL, NL_BE, rev(DE_NL))],
  BE: [ring(coastBE, BE_FR, BE_LU, rev(DE_BE), rev(NL_BE))],
  LU: [ring(LU_FR, rev(DE_LU), rev(BE_LU))],
  FR: [ring(coastFR_A, FR_ES, coastFR_M, FR_IT, FR_CH, rev(DE_FR), rev(LU_FR), rev(BE_FR)), ringCorsica],
  CH: [ring(rev(FR_CH), CH_IT, CH_AT, rev(DE_CH))],
  AT: [ring(DE_AT, rev(AT_CZ), rev(AT_SK), rev(AT_HU), rev(AT_SI), rev(AT_IT), CH_AT)],
  CZ: [ring(DE_CZ, CZ_PL, CZ_SK, AT_CZ)],
  PL: [ring(rev(DE_PL), CZ_PL, SK_PL, rev(PL_UA), rev(PL_BY), rev(PL_LT), rev(PL_RU), coastPL)],
  SK: [ring(rev(CZ_SK), SK_PL, SK_UA, SK_HU, AT_SK)],
  HU: [ring(rev(SK_HU), HU_UA, HU_RO, HU_RS, HU_HR, HU_SI, AT_HU)],
  SI: [ring(IT_SI, coastSI, SI_HR, HU_SI, rev(AT_SI))],
  HR: [ring(coastHR, HR_ME, HR_BA, rev(HR_RS), HU_HR, rev(SI_HR))],
  BA: [ring(rev(HR_BA), BA_ME, rev(BA_RS))],
  ME: [ring(coastME, ME_AL, ME_XK, ME_RS, rev(BA_ME), rev(HR_ME))],
  RS: [ring(HR_RS, BA_RS, rev(ME_RS), rev(ME_XK), XK_AL, XK_MK, RS_MK, RS_BG, RS_RO, HU_RS)],
  AL: [ring(coastAL, AL_EL, AL_MK, rev(XK_AL), rev(ME_AL))],
  MK: [ring(rev(AL_MK), MK_EL, MK_BG, rev(RS_MK), rev(XK_MK))],
  BG: [ring(RS_BG, BG_RO, coastBG, rev(BG_TR), rev(BG_EL), MK_BG)],
  RO: [ring(rev(HU_RO), RO_UA_N, RO_MD, RO_UA_S, coastRO, rev(BG_RO), RS_RO)],
  EL: [ring(coastEL, rev(EL_TR), rev(BG_EL), rev(MK_EL), rev(AL_EL)), ringCrete, ringEuboea, ringLesvos, ringRhodes],
  TR: [ring(EL_TR, coastThrace, rev(BG_TR)), ring(coastTR_N, TR_E, coastTR_S)],
  IT: [ring(coastIT, FR_IT, CH_IT, AT_IT, IT_SI), ringSicily, ringSardinia],
  ES: [ring(coastES_N, PT_ES, coastES_S, rev(FR_ES)), ringMallorca, ringMenorca, ringIbiza],
  PT: [ring(coastPT, rev(PT_ES))],
  IE: [ring(coastIE, IE_UK)],
  EE: [ring(coastEE, EE_RU, rev(LV_EE)), ringSaaremaa, ringHiiumaa],
  LV: [ring(coastLV, LV_EE, LV_EAST, rev(LT_LV))],
  LT: [ring(coastLT, LT_RU, PL_LT, rev(LT_BY), rev(LT_LV))],
  CY: [ringCyprus],
  MT: []
};
const isletsByCountry = { EL: isletsEL, TR: isletsTR, HR: isletsHR, DK: isletsDK, DE: isletsDE, NL: isletsNL, NO: isletsNO, IT: isletsIT, ES: isletsES, FI: isletsFI, EE: isletsEE };
const blackBorders = [NO_RU,NO_FI,NO_SE,FI_SE,FI_RU,DK_DE,DE_NL,DE_BE,DE_LU,DE_FR,DE_CH,DE_AT,DE_CZ,DE_PL,NL_BE,BE_FR,BE_LU,LU_FR,FR_ES,FR_IT,FR_CH,CH_IT,CH_AT,AT_IT,AT_SI,AT_HU,AT_SK,AT_CZ,CZ_PL,CZ_SK,SK_PL,SK_UA,SK_HU,HU_UA,HU_RO,HU_RS,HU_HR,HU_SI,IT_SI,SI_HR,HR_ME,HR_BA,HR_RS,BA_RS,BA_ME,ME_AL,ME_XK,ME_RS,XK_AL,XK_MK,RS_MK,RS_BG,RS_RO,AL_EL,AL_MK,MK_EL,MK_BG,BG_EL,BG_TR,BG_RO,EL_TR,RO_UA_N,RO_MD,RO_UA_S,PL_UA,PL_BY,PL_LT,PL_RU,LT_RU,LT_LV,LT_BY,LV_EE,LV_EAST,EE_RU,PT_ES,IE_UK,TR_E];

const W = 3321, mapTop = 328, mapBottom = 2976;
const DARK = '#c7378a', PALE = '#e2a9ce', BLUE = '#3163b5', DKBLUE = '#2e50a0', CYPRUS = '#e3ccdc', GREY = '#e6e6e6', COAST = '#808080';
const color = d3.scaleThreshold().domain([75, 100]).range([DARK, PALE, BLUE]);

const svg = d3.select('#chart').append('svg')
  .attr('width', W).attr('height', W).attr('viewBox', `0 0 ${W} ${W}`)
  .style('display', 'block');
svg.append('rect').attr('width', W).attr('height', W).attr('fill', '#fff');

// ETRS89-LAEA style projection centred on 10E 52N
const projection = d3.geoAzimuthalEqualArea()
  .rotate([-10, -52])
  .scale(4144)
  .translate([1235, 1792])
  .clipExtent([[0, mapTop], [W, mapBottom]])
  .precision(0.3);
const path = d3.geoPath(projection);

function poly(r) {
  const c = r.slice();
  const a = c[0], b = c[c.length - 1];
  if (a[0] !== b[0] || a[1] !== b[1]) c.push(a);
  const f = { type: 'Polygon', coordinates: [c] };
  if (d3.geoArea(f) > 2 * Math.PI) f.coordinates[0] = c.reverse();
  return f;
}
const islet = d => d3.geoCircle().center([d[0], d[1]]).radius(d[2]).precision(50)();

function drawLand(g, features, fill) {
  g.selectAll(null).data(features).join('path')
    .attr('d', path)
    .attr('fill', fill)
    .attr('stroke', COAST)
    .attr('stroke-width', 2.5)
    .attr('stroke-linejoin', 'round');
}

const map = svg.append('g');

// graticule
map.append('path')
  .datum(d3.geoGraticule().step([10, 10])())
  .attr('d', path)
  .attr('fill', 'none')
  .attr('stroke', '#cccccc')
  .attr('stroke-width', 2.5);

// countries without data
const greyLand = [ringEast, ringAfrica, ringGB, ring(IE_UK, coastNI), ringGreenland, ring(coastKal, LT_RU, rev(PL_RU))].map(poly).concat(isletsUK.map(islet));
drawLand(map.append('g'), greyLand, GREY);
map.append('g').selectAll(null).data([ringBlackSea, ringAzov, ringCaspian].map(poly)).join('path')
  .attr('d', path).attr('fill', '#fff').attr('stroke', COAST).attr('stroke-width', 2.5);

// countries with data
countryCodes.forEach((code, i) => {
  const fill = code === 'DK' ? DKBLUE : code === 'CY' ? CYPRUS : color(countryValues[i]);
  const features = ringsByCountry[code].map(poly).concat((isletsByCountry[code] || []).map(islet));
  drawLand(map.append('g').attr('class', code), features, fill);
});
drawLand(map.append('g'), [poly(ringKosovo)], GREY);

// national borders
map.append('g').selectAll(null).data(blackBorders).join('path')
  .datum(d => ({ type: 'LineString', coordinates: d }))
  .attr('d', path)
  .attr('fill', 'none')
  .attr('stroke', '#000')
  .attr('stroke-width', 4.5)
  .attr('stroke-linejoin', 'round')
  .attr('stroke-linecap', 'round');

// microstates
map.append('g').selectAll(null).data([[12.45, 43.95], [12.45, 41.9]]).join('circle')
  .attr('cx', d => projection(d)[0]).attr('cy', d => projection(d)[1])
  .attr('r', 5).attr('fill', '#000');

// Luxembourg and Malta leaders
const luxDot = projection([6.1, 49.75]), luxEnd = projection([5.85, 49.35]);
map.append('line').attr('x1', luxDot[0]).attr('y1', luxDot[1]).attr('x2', luxEnd[0]).attr('y2', luxEnd[1]).attr('stroke', '#fff').attr('stroke-width', 1.5);
map.append('circle').attr('cx', luxDot[0]).attr('cy', luxDot[1]).attr('r', 4.5).attr('fill', '#fff');
const mtDot = projection([14.4, 35.9]), mtEnd = projection([14.85, 35.93]);
map.append('line').attr('x1', mtDot[0]).attr('y1', mtDot[1]).attr('x2', mtEnd[0]).attr('y2', mtEnd[1]).attr('stroke', '#000').attr('stroke-width', 2);
map.append('circle').attr('cx', mtDot[0]).attr('cy', mtDot[1]).attr('r', 5).attr('fill', '#000');

// value labels, squeezed sideways to the narrow face of the original
map.append('g').selectAll(null)
  .data(countryCodes.map((code, i) => ({ code, v: countryValues[i], at: labelLonLat[i] })))
  .join('text')
  .attr('transform', d => {
    const p = projection(d.at);
    return `translate(${p[0]},${p[1] + 17}) scale(0.82,1)`;
  })
  .attr('text-anchor', 'middle')
  .attr('font-size', 48)
  .attr('font-weight', 800)
  .attr('fill', '#000')
  .text(d => d.v + (starred.includes(d.code) ? '*' : ''));

// plain text helper, squeezed to the measured width
function label(x, y, str, size, weight, width, fill, family) {
  const t = svg.append('text')
    .attr('font-size', size).attr('font-weight', weight).attr('fill', fill || '#000').text(str);
  if (family) t.style('font-family', family);
  const natural = t.node().getComputedTextLength();
  t.attr('transform', `translate(${x},${y}) scale(${width / natural},1)`);
  return t;
}

label(28, 163, 'Actual individual consumption per capita', 146, 700, 2662);
label(28, 271, '(in PPS, 2020)', 88, 400, 518);

// EU flag
function flag(x, y, w, h, ringR, starR) {
  const g = svg.append('g');
  g.append('rect').attr('x', x).attr('y', y).attr('width', w).attr('height', h).attr('fill', '#2c5097');
  const star = d3.symbol().type(d3.symbolStar).size(starR * starR * 2.2);
  d3.range(12).forEach(i => {
    const a = i / 12 * 2 * Math.PI;
    g.append('path').attr('d', star)
      .attr('transform', `translate(${x + w / 2 + ringR * Math.sin(a)},${y + h / 2 - ringR * Math.cos(a)})`)
      .attr('fill', '#ffe81a');
  });
}

// legend
flag(2338, 920, 80, 53, 18, 4);
label(2453, 966, 'European Union (EU)=100', 53, 700, 651);
const legendY = [1027, 1112, 1207], legendBase = [1039, 1131, 1223], legendW = [548, 525, 454];
[DARK, PALE, BLUE].forEach((c, i) => {
  svg.append('circle').attr('cx', 2377.5).attr('cy', legendY[i]).attr('r', 30).attr('fill', c);
  label(2453, legendBase[i], legendLabels[i], 53, 700, legendW[i]);
});
label(2431, 1361, 'Euro area = 105', 53, 700, 386);

// scale bar
const km = d3.scaleLinear().domain([0, 800]).range([633.5, 1129]);
const bar = svg.append('g').attr('stroke', '#000');
bar.selectAll(null).data(scaleTicks).join('line')
  .attr('x1', d => km(d)).attr('x2', d => km(d)).attr('y1', 475).attr('y2', 533).attr('stroke-width', 2.5);
[475, 502].forEach(y => bar.append('line').attr('x1', km(0)).attr('x2', km(800)).attr('y1', y).attr('y2', y).attr('stroke-width', 3.5));
[[0, 200], [400, 600]].forEach(s => bar.append('line').attr('x1', km(s[0])).attr('x2', km(s[1])).attr('y1', 486).attr('y2', 486).attr('stroke-width', 3.5));
const tickWidth = d => d === 800 ? 88 : (d === 0 ? 14 : 44);
scaleTicks.forEach(d => {
  const x = d === 800 ? 1104 : km(d) - 5 - tickWidth(d) / 2;
  label(x, 577, d === 800 ? '800 km' : String(d), 30, 400, tickWidth(d));
});

// footer
label(38, 3050, '*Non-EU countries', 48, 400, 386);
label(1955, 3048, 'Administrative boundaries: © EuroGeographics © UN–FAO © Turkstat', 48, 400, 1346);
label(2517, 3116, 'Cartography: Eurostat – IMAGE, 12/2021', 48, 400, 781);

// Eurostat logo
label(1812, 3275, 'ec.europa.eu/', 132, 400, 813, '#77787b', '"Liberation Sans"');
label(2630, 3275, 'eurostat', 132, 700, 523, '#77787b', '"Liberation Sans"');
flag(3174, 3184, 134, 90, 33, 7);
</script>
</body>
</html>
